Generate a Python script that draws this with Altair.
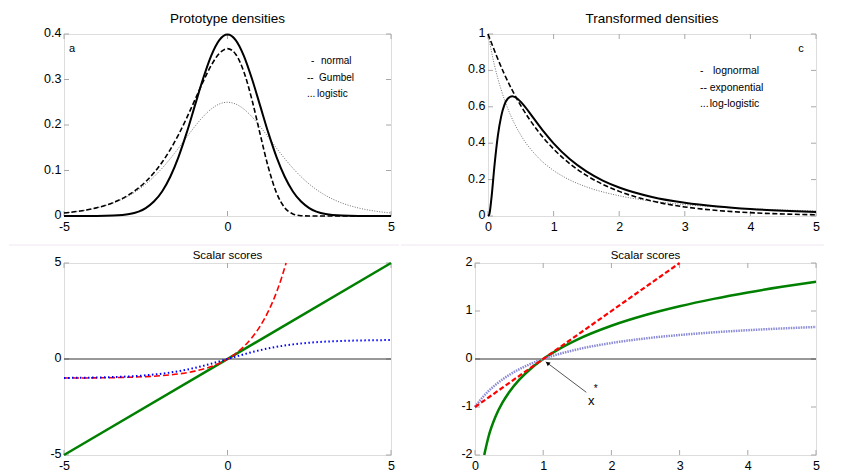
import altair as alt
import pandas as pd

FONT = "Liberation Sans, Arial, sans-serif"
BOX_COLOR = "#8c8c8c"
TICK_COLOR = "#a8a8a8"
TICK_FONT_SIZE = 12.5

# ---------------- panel a : prototype densities ----------------
A_X = [-5, -4.5, -4, -3.5, -3, -2.5, -2.25, -2, -1.75, -1.5, -1.25, -1, -0.75, -0.5, -0.25, 0,
       0.25, 0.5, 0.75, 1, 1.25, 1.5, 1.75, 2, 2.25, 2.5, 3, 3.5, 4, 4.5, 5]
A_NORMAL = [0, 0, 0.0001, 0.0009, 0.0044, 0.0175, 0.0317, 0.0540, 0.0863, 0.1295, 0.1826, 0.2420,
            0.3011, 0.3521, 0.3867, 0.3989, 0.3867, 0.3521, 0.3011, 0.2420, 0.1826, 0.1295, 0.0863,
            0.0540, 0.0317, 0.0175, 0.0044, 0.0009, 0.0001, 0, 0]
A_GUMBEL = [0.0067, 0.0110, 0.0180, 0.0293, 0.0474, 0.0756, 0.0949, 0.1182, 0.1460, 0.1785, 0.2151,
            0.2546, 0.2945, 0.3307, 0.3574, 0.3679, 0.3556, 0.3170, 0.2549, 0.1794, 0.1065, 0.0507,
            0.0182, 0.0046, 0.0007, 0.0001, 0, 0, 0, 0, 0]
A_LOGISTIC = [0.0066, 0.0109, 0.0177, 0.0285, 0.0452, 0.0701, 0.0863, 0.1050, 0.1261, 0.1491, 0.1731,
              0.1966, 0.2179, 0.2350, 0.2461, 0.25, 0.2461, 0.2350, 0.2179, 0.1966, 0.1731, 0.1491,
              0.1261, 0.1050, 0.0863, 0.0701, 0.0452, 0.0285, 0.0177, 0.0109, 0.0066]
A_XTICKS = [-5, 0, 5]
A_YTICKS = [0, 0.1, 0.2, 0.3, 0.4]
A_LEG_SYM = ["-", "--", "..."]
A_LEG_SYM_X = [2.55, 2.43, 2.43]
A_LEG_TXT = ["normal", "Gumbel", "logistic"]
A_LEG_TXT_X = [2.86, 2.80, 2.74]
A_LEG_Y = [0.341, 0.303, 0.268]

# ---------------- panel c : transformed densities ----------------
C_LOGN_X = [0, 0.02, 0.05, 0.1, 0.15, 0.2, 0.25, 0.3, 0.37, 0.45, 0.55, 0.7, 0.85, 1, 1.25, 1.5,
            1.75, 2, 2.5, 3, 3.5, 4, 4.5, 5]
C_LOGN = [0, 0.0095, 0.0898, 0.2816, 0.4399, 0.5462, 0.6104, 0.6442, 0.6577, 0.6445, 0.6067, 0.5348,
          0.4632, 0.3989, 0.3113, 0.2450, 0.1949, 0.1569, 0.1049, 0.0727, 0.0520, 0.0381, 0.0286, 0.0219]
C_EXP_X = [0, 0.25, 0.5, 0.75, 1, 1.25, 1.5, 2, 2.5, 3, 3.5, 4, 4.5, 5]
C_EXP = [1, 0.7788, 0.6065, 0.4724, 0.3679, 0.2865, 0.2231, 0.1353, 0.0821, 0.0498, 0.0302, 0.0183,
         0.0111, 0.0067]
C_LLOG_X = [0, 0.1, 0.2, 0.3, 0.4, 0.5, 0.75, 1, 1.25, 1.5, 2, 2.5, 3, 3.5, 4, 4.5, 5]
C_LLOG = [1, 0.8264, 0.6944, 0.5917, 0.5102, 0.4444, 0.3265, 0.25, 0.1975, 0.16, 0.1111, 0.0816,
          0.0625, 0.0494, 0.04, 0.0331, 0.0278]
C_XTICKS = [0, 1, 2, 3, 4, 5]
C_YTICKS = [0, 0.2, 0.4, 0.6, 0.8, 1]
C_LEG_SYM = ["-", "--", "..."]
C_LEG_SYM_X = [3.23, 3.23, 3.23]
C_LEG_TXT = ["lognormal", "exponential", "log-logistic"]
C_LEG_TXT_X = [3.43, 3.38, 3.38]
C_LEG_Y = [0.797, 0.705, 0.617]

# ---------------- panel b : scalar scores (prototype) ----------------
B_NORM_X = [-5, 5]
B_NORM = [-5, 5]
B_GUM_X = [-5, -4, -3, -2.5, -2, -1.5, -1, -0.5, 0, 0.25, 0.5, 0.75, 1, 1.25, 1.5, 1.65, 1.792]
B_GUM = [-0.9933, -0.9817, -0.9502, -0.9179, -0.8647, -0.7769, -0.6321, -0.3935, 0, 0.2840, 0.6487,
         1.1170, 1.7183, 2.4903, 3.4817, 4.2070, 5.0]
B_LOG_X = [-5, -4.5, -4, -3.5, -3, -2.5, -2, -1.5, -1, -0.5, 0, 0.5, 1, 1.5, 2, 2.5, 3, 3.5, 4, 4.5, 5]
B_LOG = [-0.9866, -0.9780, -0.9640, -0.9413, -0.9051, -0.8483, -0.7616, -0.6351, -0.4621, -0.2449, 0,
         0.2449, 0.4621, 0.6351, 0.7616, 0.8483, 0.9051, 0.9413, 0.9640, 0.9780, 0.9866]
B_XTICKS = [-5, 0, 5]
B_YTICKS = [-5, 0, 5]

# ---------------- panel d : scalar scores (transformed) ----------------
D_LOGN_X = [0.1353, 0.2, 0.3, 0.4, 0.5, 0.65, 0.8, 1, 1.25, 1.5, 2, 2.5, 3, 3.5, 4, 4.5, 5]
D_LOGN = [-2.0, -1.6094, -1.2040, -0.9163, -0.6931, -0.4308, -0.2231, 0, 0.2231, 0.4055, 0.6931,
          0.9163, 1.0986, 1.2528, 1.3863, 1.5041, 1.6094]
D_EXP_X = [0, 3]
D_EXP = [-1, 2]
D_LLOG_X = [0, 0.1, 0.2, 0.3, 0.5, 0.75, 1, 1.5, 2, 2.5, 3, 3.5, 4, 4.5, 5]
D_LLOG = [-1, -0.8182, -0.6667, -0.5385, -0.3333, -0.1429, 0, 0.2, 0.3333, 0.4286, 0.5, 0.5556, 0.6,
          0.6364, 0.6667]
D_XTICKS = [0, 1, 2, 3, 4, 5]
D_YTICKS = [-2, -1, 0, 1, 2]
D_ARROW = {"x": [1.632], "y": [-0.694], "x2": [1.037], "y2": [-0.058]}
D_HEAD = {"x": [1.072], "y": [-0.095]}
D_LABEL = {"x": [1.705], "y": [-0.866]}
D_STAR = {"x": [1.77], "y": [-0.626]}

ONE = pd.DataFrame({"k": [0]})


def make_axis(vals, is_y):
    extra = {"labelOffset": -1.5} if is_y else {}
    return alt.Axis(values=vals, labelExpr="'' + datum.value", ticks=False, domain=False, grid=False,
                    labelFont=FONT, labelFontSize=TICK_FONT_SIZE, labelColor="black",
                    labelPadding=3 if is_y else 4,
                    labelFlush=False, labelOverlap=False, title=None, **extra)


def panel(W, H, xdom, ydom, xticks, yticks, title, title_size, title_dy, EL, ER, ET, EB, content):
    xs = alt.Scale(domain=xdom, nice=False, zero=False)
    ys = alt.Scale(domain=ydom, nice=False, zero=False)
    xax = make_axis(xticks, False)
    yax = make_axis(yticks, True)

    def X(f="x"):
        return alt.X(f + ":Q", scale=xs, axis=xax)

    def Y(f="y"):
        return alt.Y(f + ":Q", scale=ys, axis=yax)

    layers = []
    # invisible spacer fixing the panel's bounds
    layers.append(alt.Chart(ONE).mark_rule(opacity=0).encode(
        x=alt.value(-EL), x2=alt.value(W + ER), y=alt.value(-ET), y2=alt.value(H + EB)))
    xt = pd.DataFrame({"x": xticks})
    yt = pd.DataFrame({"y": yticks})
    layers.append(alt.Chart(xt).mark_rule(color=TICK_COLOR, strokeWidth=1).encode(
        x=X(), y=alt.value(H), y2=alt.value(H - 5)))
    layers.append(alt.Chart(xt).mark_rule(color=TICK_COLOR, strokeWidth=1).encode(
        x=X(), y=alt.value(0), y2=alt.value(5)))
    layers.append(alt.Chart(yt).mark_rule(color=TICK_COLOR, strokeWidth=1).encode(
        y=Y(), x=alt.value(0), x2=alt.value(5)))
    layers.append(alt.Chart(yt).mark_rule(color=TICK_COLOR, strokeWidth=1).encode(
        y=Y(), x=alt.value(W), x2=alt.value(W - 5)))
    layers.append(alt.Chart(ONE).mark_text(text=title, font=FONT, fontSize=title_size,
                                           baseline="alphabetic", align="center", color="black").encode(
        x=alt.value(W / 2), y=alt.value(-title_dy)))
    layers += content(X, Y, W, H)
    return alt.layer(*layers).properties(width=W, height=H)


def line(xv, yv, X, Y, **kw):
    return alt.Chart(pd.DataFrame({"x": xv, "y": yv})).mark_line(interpolate="monotone", **kw).encode(
        x=X(), y=Y())


def texts(xv, yv, tv, X, Y, **kw):
    return alt.Chart(pd.DataFrame({"x": xv, "y": yv, "t": tv})).mark_text(
        font=FONT, color="black", **kw).encode(x=X(), y=Y(), text="t:N")


def content_a(X, Y, W, H):
    return [
        line(A_X, A_LOGISTIC, X, Y, color="#707070", strokeWidth=1, strokeDash=[1, 1.5]),
        line(A_X, A_GUMBEL, X, Y, color="black", strokeWidth=1.6, strokeDash=[5, 2.5]),
        line(A_X, A_NORMAL, X, Y, color="black", strokeWidth=2),
        texts([-4.755], [0.367], ["a"], X, Y, fontSize=11, align="center", baseline="middle"),
        texts(A_LEG_SYM_X, A_LEG_Y, A_LEG_SYM, X, Y, fontSize=10, align="left", baseline="middle"),
        texts(A_LEG_TXT_X, A_LEG_Y, A_LEG_TXT, X, Y, fontSize=10, align="left", baseline="middle"),
    ]


def content_c(X, Y, W, H):
    return [
        line(C_LLOG_X, C_LLOG, X, Y, color="#707070", strokeWidth=1, strokeDash=[1, 1.5]),
        line(C_EXP_X, C_EXP, X, Y, color="black", strokeWidth=1.6, strokeDash=[5, 2.5]),
        line(C_LOGN_X, C_LOGN, X, Y, color="black", strokeWidth=2),
        texts([4.77], [0.918], ["c"], X, Y, fontSize=11, align="center", baseline="middle"),
        texts(C_LEG_SYM_X, C_LEG_Y, C_LEG_SYM, X, Y, fontSize=10.5, align="left", baseline="middle"),
        texts(C_LEG_TXT_X, C_LEG_Y, C_LEG_TXT, X, Y, fontSize=10.5, align="left", baseline="middle"),
    ]


def sep_line(W, EL, ER):
    return alt.Chart(ONE).mark_rule(color="#efe6f2", strokeWidth=1).encode(
        x=alt.value(-EL), x2=alt.value(W + ER), y=alt.value(-18))


def content_b(X, Y, W, H):
    return [
        alt.Chart(pd.DataFrame({"y": [0]})).mark_rule(color="#333333", strokeWidth=1).encode(
            y=Y(), x=alt.value(0), x2=alt.value(W)),
        line(B_NORM_X, B_NORM, X, Y, color="#008000", strokeWidth=2.5),
        line(B_GUM_X, B_GUM, X, Y, color="#ff0000", strokeWidth=1.6, strokeDash=[6, 3]),
        line(B_LOG_X, B_LOG, X, Y, color="#0000ff", strokeWidth=2, strokeDash=[1.5, 2.5]),
        sep_line(W, 55, 8),
    ]


def content_d(X, Y, W, H):
    return [
        alt.Chart(pd.DataFrame({"y": [0]})).mark_rule(color="#333333", strokeWidth=1).encode(
            y=Y(), x=alt.value(0), x2=alt.value(W)),
        line(D_LOGN_X, D_LOGN, X, Y, color="#008000", strokeWidth=2.5),
        line(D_LLOG_X, D_LLOG, X, Y, color="#8a8ad6", strokeWidth=2.5, strokeDash=[1.5, 1]),
        line(D_EXP_X, D_EXP, X, Y, color="#ff0000", strokeWidth=2.2, strokeDash=[5, 2.5]),
        alt.Chart(pd.DataFrame(D_ARROW)).mark_rule(color="#555555", strokeWidth=1).encode(
            x=X(), y=Y(), x2=alt.X2("x2:Q"), y2=alt.Y2("y2:Q")),
        alt.Chart(pd.DataFrame(D_HEAD)).mark_point(shape="triangle", filled=True, size=22, angle=307,
                                                   color="black", opacity=1).encode(x=X(), y=Y()),
        texts(D_LABEL["x"], D_LABEL["y"], ["x"], X, Y, fontSize=13, align="center", baseline="middle"),
        texts(D_STAR["x"], D_STAR["y"], ["*"], X, Y, fontSize=10, align="center", baseline="middle"),
        sep_line(W, 74, 8),
    ]


pa = panel(327, 182, [-5, 5], [0, 0.4], A_XTICKS, A_YTICKS, "Prototype densities", 13.5, 11.3,
           55, 8, 25, 20, content_a)
pc = panel(328, 182, [0, 5], [0, 1], C_XTICKS, C_YTICKS, "Transformed densities", 13.5, 11.3,
           87, 8, 25, 20, content_c)
pb = panel(327, 192, [-5, 5], [-5, 5], B_XTICKS, B_YTICKS, "Scalar scores", 11.5, 3.6,
           55, 8, 25, 20, content_b)
pd_ = panel(341, 192, [0, 5], [-2, 2], D_XTICKS, D_YTICKS, "Scalar scores", 11.5, 3.6,
            74, 8, 25, 20, content_d)

row1 = alt.hconcat(pa, pc, spacing=0)
row2 = alt.hconcat(pb, pd_, spacing=0)
chart = alt.vconcat(row1, row2, spacing=0).properties(
    padding={"left": 0, "top": 0, "right": 0, "bottom": 0}
).configure_view(stroke=BOX_COLOR, strokeWidth=1).configure(background="white")

chart.save("out.html", embed_options={"renderer": "svg", "actions": False})
